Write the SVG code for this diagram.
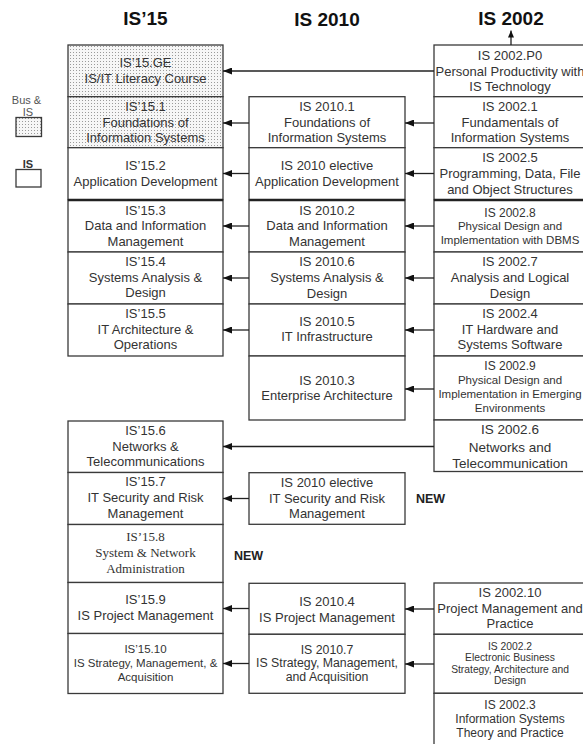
<svg xmlns="http://www.w3.org/2000/svg" width="583" height="744" viewBox="0 0 583 744">
<defs>
<pattern id="dots" width="3" height="3" patternUnits="userSpaceOnUse">
<rect width="3" height="3" fill="#f6f6f6"/>
<rect x="1" y="1" width="1" height="1" fill="#9a9a9a"/>
</pattern>
<marker id="ah" markerUnits="userSpaceOnUse" markerWidth="9" markerHeight="7" refX="9" refY="3.5" orient="auto">
<path d="M0,0 L9,3.5 L0,7 z" fill="#111"/>
</marker>
<marker id="ahs" markerUnits="userSpaceOnUse" markerWidth="7" markerHeight="6" refX="7" refY="3" orient="auto">
<path d="M0,0 L7,3 L0,6 z" fill="#111"/>
</marker>
</defs>
<style>
.b{fill:#fff;stroke:#3a3a3a;stroke-width:1.3}
.d{fill:url(#dots);stroke:#3a3a3a;stroke-width:1.3}
.sep{stroke:#222;stroke-width:2.4}
.t{font-family:"Liberation Sans",Arial,sans-serif;font-size:13px;fill:#333;text-anchor:middle}
.s{font-size:11.5px}
.xs{font-size:10.3px}
.m{font-size:12px}
.sf{font-family:"Liberation Serif","Times New Roman",serif;font-size:13px}
.h{font-family:"Liberation Sans",Arial,sans-serif;font-size:19px;font-weight:bold;fill:#111;text-anchor:middle}
.n{font-family:"Liberation Sans",Arial,sans-serif;font-size:12.5px;font-weight:bold;fill:#222;text-anchor:middle}
.lg{font-family:"Liberation Sans",Arial,sans-serif;font-size:11px;fill:#555;text-anchor:middle}
.c{stroke:#222;stroke-width:1.3;fill:none;marker-end:url(#ah)}
</style>

<g id="headers">
<text class="h" x="145.5" y="25">IS’15</text>
<text class="h" x="327" y="26">IS 2010</text>
<text class="h" x="511" y="25">IS 2002</text>
</g>

<g id="legend">
<text class="lg" x="26.5" y="104">Bus &amp;</text>
<text class="lg" x="28" y="115.5">IS</text>
<rect class="d" x="16" y="117.5" width="25.5" height="19"/>
<text class="lg" x="28" y="167.5" style="font-weight:bold;fill:#333">IS</text>
<rect class="b" x="16" y="169.5" width="25" height="17.5"/>
</g>

<!-- IS'15 column -->
<g id="is15-ge"><rect class="d" x="68" y="45" width="155" height="51.7"/>
<text class="t"><tspan x="145.5" y="67">IS’15.GE</tspan><tspan x="145.5" y="83">IS/IT Literacy Course</tspan></text></g>
<g id="is15-1"><rect class="d" x="68" y="96.7" width="155" height="51"/>
<text class="t"><tspan x="145.5" y="111.3">IS’15.1</tspan><tspan x="145.5" y="126.9">Foundations of</tspan><tspan x="145.5" y="142.3">Information Systems</tspan></text></g>
<g id="is15-2"><rect class="b" x="68" y="147.7" width="155" height="52"/>
<text class="t"><tspan x="145.5" y="169.6">IS’15.2</tspan><tspan x="145.5" y="185.6">Application Development</tspan></text></g>
<g id="is15-3"><rect class="b" x="68" y="200" width="155" height="52"/><line class="sep" x1="68" y1="200" x2="223" y2="200"/>
<text class="t"><tspan x="145.5" y="214.6">IS’15.3</tspan><tspan x="145.5" y="230.3">Data and Information</tspan><tspan x="145.5" y="245.6">Management</tspan></text></g>
<g id="is15-4"><rect class="b" x="68" y="252" width="155" height="52"/>
<text class="t"><tspan x="145.5" y="266.3">IS’15.4</tspan><tspan x="145.5" y="281.9">Systems Analysis &amp;</tspan><tspan x="145.5" y="297.3">Design</tspan></text></g>
<g id="is15-5"><rect class="b" x="68" y="304" width="155" height="52"/>
<text class="t"><tspan x="145.5" y="317.9">IS’15.5</tspan><tspan x="145.5" y="333.6">IT Architecture &amp;</tspan><tspan x="145.5" y="348.9">Operations</tspan></text></g>
<g id="is15-6"><rect class="b" x="68" y="421" width="155" height="51.5"/>
<text class="t"><tspan x="145.5" y="434.6">IS’15.6</tspan><tspan x="145.5" y="450.6">Networks &amp;</tspan><tspan x="145.5" y="465.6">Telecommunications</tspan></text></g>
<g id="is15-7"><rect class="b" x="68" y="472.5" width="155" height="52"/>
<text class="t"><tspan x="145.5" y="486.3">IS’15.7</tspan><tspan x="145.5" y="502.3">IT Security and Risk</tspan><tspan x="145.5" y="517.6">Management</tspan></text></g>
<g id="is15-8"><rect class="b" x="68" y="524.5" width="155" height="58"/>
<text class="t sf"><tspan x="145.5" y="541">IS’15.8</tspan><tspan x="145.5" y="557">System &amp; Network</tspan><tspan x="145.5" y="572.6">Administration</tspan></text></g>
<g id="is15-9"><rect class="b" x="68" y="582.5" width="155" height="51"/>
<text class="t"><tspan x="145.5" y="603.9">IS’15.9</tspan><tspan x="145.5" y="619.6">IS Project Management</tspan></text></g>
<g id="is15-10"><rect class="b" x="68" y="633.5" width="155" height="60"/>
<text class="t s"><tspan x="145.5" y="653.4">IS’15.10</tspan><tspan x="145.5" y="666.8">IS Strategy, Management, &amp;</tspan><tspan x="145.5" y="680.8">Acquisition</tspan></text></g>

<!-- IS 2010 column -->
<g id="is2010-1"><rect class="b" x="249" y="96.7" width="156" height="51"/>
<text class="t"><tspan x="327" y="111.3">IS 2010.1</tspan><tspan x="327" y="126.9">Foundations of</tspan><tspan x="327" y="142.3">Information Systems</tspan></text></g>
<g id="is2010-e1"><rect class="b" x="249" y="147.7" width="156" height="52"/>
<text class="t"><tspan x="327" y="169.6">IS 2010 elective</tspan><tspan x="327" y="185.6">Application Development</tspan></text></g>
<g id="is2010-2"><rect class="b" x="249" y="200" width="156" height="52"/><line class="sep" x1="249" y1="200" x2="405" y2="200"/>
<text class="t"><tspan x="327" y="214.6">IS 2010.2</tspan><tspan x="327" y="230.3">Data and Information</tspan><tspan x="327" y="245.6">Management</tspan></text></g>
<g id="is2010-6"><rect class="b" x="249" y="252" width="156" height="52"/>
<text class="t"><tspan x="327" y="266.3">IS 2010.6</tspan><tspan x="327" y="282">Systems Analysis &amp;</tspan><tspan x="327" y="297.5">Design</tspan></text></g>
<g id="is2010-5"><rect class="b" x="249" y="304" width="156" height="52"/>
<text class="t"><tspan x="327" y="325.6">IS 2010.5</tspan><tspan x="327" y="341.3">IT Infrastructure</tspan></text></g>
<g id="is2010-3"><rect class="b" x="249" y="356" width="156" height="64"/>
<text class="t"><tspan x="327" y="384.6">IS 2010.3</tspan><tspan x="327" y="400.1">Enterprise Architecture</tspan></text></g>
<g id="is2010-e2"><rect class="b" x="249" y="472.7" width="156" height="51.6"/>
<text class="t"><tspan x="327" y="486.9">IS 2010 elective</tspan><tspan x="327" y="502.9">IT Security and Risk</tspan><tspan x="327" y="517.9">Management</tspan></text></g>
<g id="is2010-4"><rect class="b" x="249" y="583.3" width="156" height="51"/>
<text class="t"><tspan x="327" y="606.3">IS 2010.4</tspan><tspan x="327" y="621.6">IS Project Management</tspan></text></g>
<g id="is2010-7"><rect class="b" x="249" y="634.3" width="156" height="59"/>
<text class="t" style="font-size:12.3px"><tspan x="327" y="653.6">IS 2010.7</tspan><tspan x="327" y="667">IS Strategy, Management,</tspan><tspan x="327" y="681">and Acquisition</tspan></text></g>

<!-- IS 2002 column -->
<g id="is2002-p0"><rect class="b" x="434" y="45" width="152" height="51.7"/>
<text class="t"><tspan x="510" y="60.1">IS 2002.P0</tspan><tspan x="510" y="75.6">Personal Productivity with</tspan><tspan x="510" y="91.1">IS Technology</tspan></text></g>
<g id="is2002-1"><rect class="b" x="434" y="96.7" width="152" height="51"/>
<text class="t"><tspan x="510" y="111.3">IS 2002.1</tspan><tspan x="510" y="126.9">Fundamentals of</tspan><tspan x="510" y="142.3">Information Systems</tspan></text></g>
<g id="is2002-5"><rect class="b" x="434" y="147.7" width="152" height="52"/>
<text class="t"><tspan x="510" y="162.3">IS 2002.5</tspan><tspan x="510" y="178">Programming, Data, File</tspan><tspan x="510" y="193.5">and Object Structures</tspan></text></g>
<g id="is2002-8"><rect class="b" x="434" y="200" width="152" height="52"/><line class="sep" x1="434" y1="200" x2="586" y2="200"/>
<text class="t m"><tspan x="510" y="216.8">IS 2002.8</tspan></text>
<text class="t s"><tspan x="510" y="230.1">Physical Design and</tspan><tspan x="510" y="244.1">Implementation with DBMS</tspan></text></g>
<g id="is2002-7"><rect class="b" x="434" y="252" width="152" height="52"/>
<text class="t"><tspan x="510" y="266.3">IS 2002.7</tspan><tspan x="510" y="282.3">Analysis and Logical</tspan><tspan x="510" y="297.9">Design</tspan></text></g>
<g id="is2002-4"><rect class="b" x="434" y="304" width="152" height="52"/>
<text class="t"><tspan x="510" y="317.9">IS 2002.4</tspan><tspan x="510" y="333.9">IT Hardware and</tspan><tspan x="510" y="348.9">Systems Software</tspan></text></g>
<g id="is2002-9"><rect class="b" x="434" y="356" width="152" height="64"/>
<text class="t m"><tspan x="510" y="370.3">IS 2002.9</tspan></text>
<text class="t s"><tspan x="510" y="384.1">Physical Design and</tspan><tspan x="510" y="398.1">Implementation in Emerging</tspan><tspan x="510" y="412.1">Environments</tspan></text></g>
<g id="is2002-6"><rect class="b" x="434" y="420" width="152" height="51.5"/>
<text class="t" style="font-size:13.5px"><tspan x="510" y="433.9">IS 2002.6</tspan><tspan x="510" y="451.9">Networks and</tspan><tspan x="510" y="467.9">Telecommunication</tspan></text></g>
<g id="is2002-10"><rect class="b" x="434" y="583" width="152" height="51.3"/>
<text class="t"><tspan x="510" y="597.1">IS 2002.10</tspan><tspan x="510" y="612.6">Project Management and</tspan><tspan x="510" y="628.1">Practice</tspan></text></g>
<g id="is2002-2"><rect class="b" x="434" y="634.3" width="152" height="59"/>
<text class="t xs"><tspan x="510" y="649.6">IS 2002.2</tspan><tspan x="510" y="661.1">Electronic Business</tspan><tspan x="510" y="672.6">Strategy, Architecture and</tspan><tspan x="510" y="684.1">Design</tspan></text></g>
<g id="is2002-3"><rect class="b" x="434" y="693.3" width="152" height="60"/>
<text class="t m"><tspan x="510" y="709.3">IS 2002.3</tspan><tspan x="510" y="723.3">Information Systems</tspan><tspan x="510" y="737.3">Theory and Practice</tspan></text></g>

<g id="labels">
<text class="n" x="430.5" y="502.5">NEW</text>
<text class="n" x="248.5" y="559.5">NEW</text>
</g>

<g id="connectors">
<line class="c" x1="434" y1="71" x2="223" y2="71"/>
<line class="c" x1="434" y1="123" x2="405" y2="123"/>
<line class="c" x1="249" y1="123" x2="223" y2="123"/>
<line class="c" x1="434" y1="173.5" x2="405" y2="173.5"/>
<line class="c" x1="249" y1="173.5" x2="223" y2="173.5"/>
<line class="c" x1="434" y1="226" x2="405" y2="226"/>
<line class="c" x1="249" y1="226" x2="223" y2="226"/>
<line class="c" x1="434" y1="278" x2="405" y2="278"/>
<line class="c" x1="249" y1="278" x2="223" y2="278"/>
<line class="c" x1="434" y1="330" x2="405" y2="330"/>
<line class="c" x1="249" y1="330" x2="223" y2="330"/>
<line class="c" x1="434" y1="389" x2="405" y2="389"/>
<line class="c" x1="434" y1="446.5" x2="223" y2="446.5"/>
<line class="c" x1="249" y1="498.5" x2="223" y2="498.5"/>
<line class="c" x1="434" y1="609" x2="405" y2="609"/>
<line class="c" x1="249" y1="608.5" x2="223" y2="608.5"/>
<line class="c" x1="434" y1="664" x2="405" y2="664"/>
<line class="c" x1="249" y1="663.5" x2="223" y2="663.5"/>
<line x1="511" y1="45" x2="511" y2="30.5" style="stroke:#222;stroke-width:1.3;marker-end:url(#ahs)"/>
</g>
</svg>
